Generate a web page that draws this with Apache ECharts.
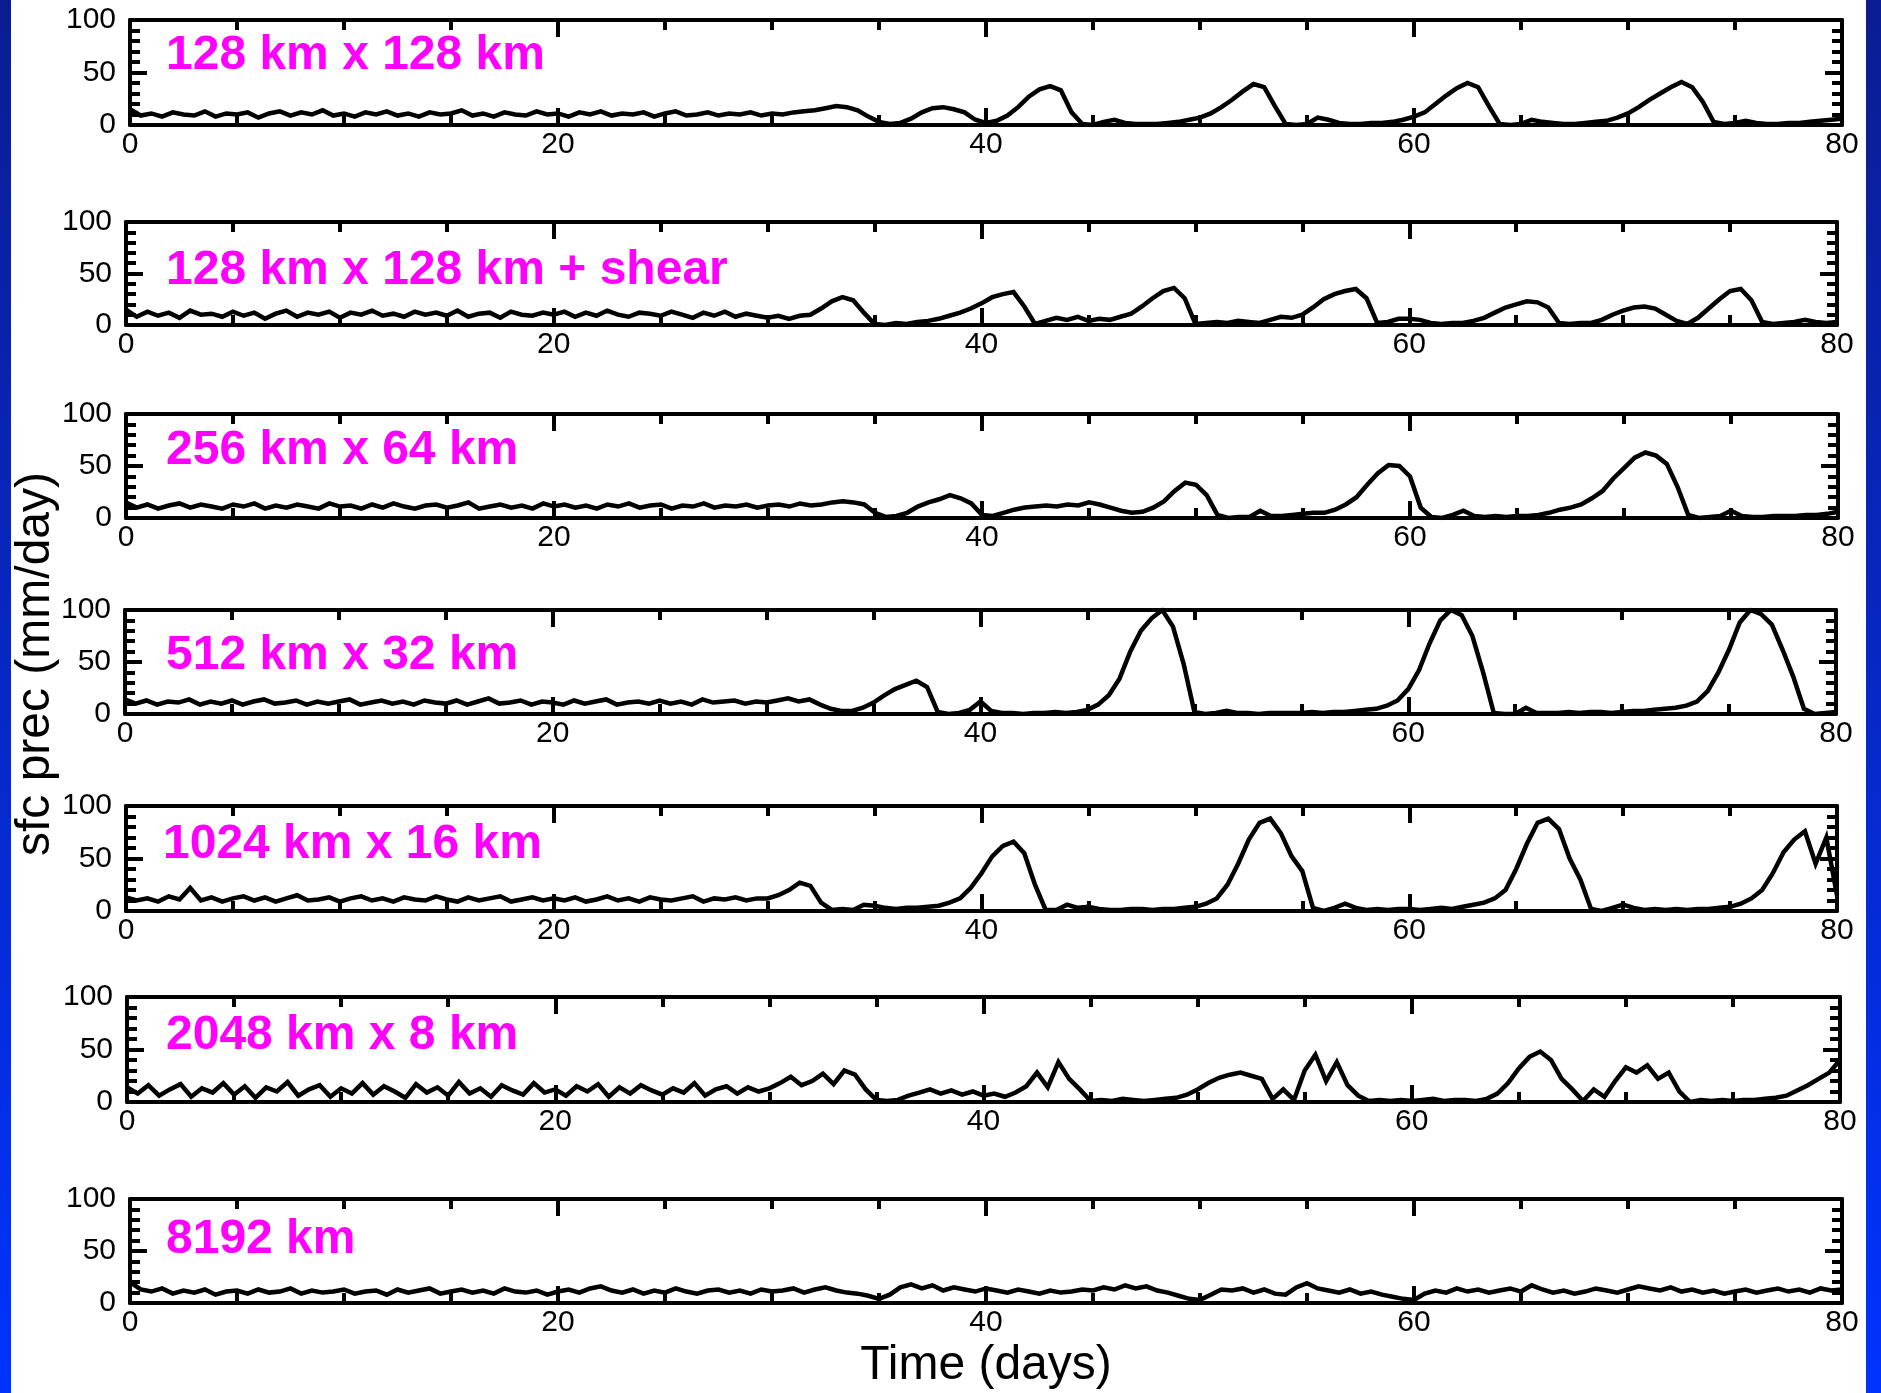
<!DOCTYPE html>
<html>
<head>
<meta charset="utf-8">
<script src="https://cdn.jsdelivr.net/npm/echarts@6/dist/echarts.min.js"></script>
<style>
  html, body { margin: 0; padding: 0; background: #fff; }
  #chart { width: 1881px; height: 1393px; }
</style>
</head>
<body>
<div id="chart"></div>
<script>
// sampling interval of all series, days
const STEP = 0.5;

const panelNames = [
  '128 km x 128 km',
  '128 km x 128 km + shear',
  '256 km x 64 km',
  '512 km x 32 km',
  '1024 km x 16 km',
  '2048 km x 8 km',
  '8192 km'
];

// surface precipitation (mm/day), one row = 5 days
const prec128 = [
  15, 9, 11, 8, 12, 10, 9, 13, 8, 11,
  10, 12, 7, 11, 13, 9, 12, 10, 14, 9,
  11, 8, 12, 10, 13, 9, 11, 8, 12, 10,
  11, 14, 9, 11, 8, 12, 10, 9, 13, 10,
  11, 8, 12, 10, 13, 9, 11, 10, 12, 8,
  11, 13, 9, 10, 12, 9, 11, 10, 12, 9,
  11, 10, 12, 13, 14, 16, 18, 17, 14, 8,
  3, 1, 2, 6, 12, 16, 17, 15, 12, 5,
  2, 4, 9, 17, 27, 34, 37, 33, 12, 1,
  0, 3, 5, 2, 1, 1, 1, 2, 3, 5,
  7, 11, 17, 24, 32, 39, 36, 18, 1, 0,
  1, 7, 5, 2, 1, 1, 2, 2, 3, 5,
  8, 12, 20, 28, 35, 40, 36, 18, 1, 0,
  1, 5, 3, 2, 1, 1, 2, 3, 4, 7,
  11, 17, 24, 30, 36, 41, 36, 22, 3, 1,
  2, 4, 2, 1, 1, 2, 2, 3, 4, 5,
  6
];
const precShear = [
  15, 8, 13, 9, 12, 7, 14, 10, 11, 8,
  13, 9, 12, 6, 11, 14, 8, 12, 10, 13,
  7, 12, 10, 14, 9, 11, 8, 13, 10, 12,
  9, 14, 8, 11, 12, 7, 13, 10, 9, 12,
  10, 13, 8, 12, 9, 14, 10, 8, 12, 11,
  9, 13, 10, 7, 12, 9, 13, 8, 11, 9,
  7, 9, 6, 9, 10, 16, 23, 27, 24, 12,
  1, 0, 2, 1, 3, 4, 6, 9, 12, 16,
  21, 27, 30, 32, 18, 1, 4, 7, 5, 8,
  4, 6, 5, 8, 11, 18, 26, 33, 36, 26,
  1, 2, 3, 2, 4, 3, 2, 5, 8, 7,
  10, 17, 25, 30, 33, 35, 26, 2, 3, 6,
  6, 5, 2, 1, 2, 2, 4, 7, 12, 17,
  20, 23, 22, 17, 2, 1, 2, 2, 5, 10,
  14, 17, 18, 16, 10, 4, 1, 7, 16, 25,
  33, 35, 24, 3, 1, 2, 3, 5, 3, 2,
  3
];
const prec256 = [
  15, 10, 13, 9, 12, 14, 10, 13, 11, 9,
  13, 11, 14, 9, 12, 10, 13, 11, 9, 14,
  11, 12, 9, 13, 10, 14, 11, 9, 12, 13,
  10, 12, 15, 9, 11, 13, 10, 12, 9, 14,
  11, 13, 10, 12, 9, 13, 11, 14, 10, 12,
  13, 9, 12, 11, 14, 10, 12, 11, 13, 10,
  12, 13, 11, 14, 12, 13, 15, 16, 15, 13,
  5, 1, 2, 5, 11, 15, 18, 22, 19, 14,
  3, 2, 5, 8, 10, 11, 12, 11, 13, 12,
  15, 13, 10, 7, 5, 6, 10, 16, 26, 34,
  32, 22, 3, 0, 1, 1, 7, 2, 2, 3,
  4, 5, 5, 8, 13, 20, 32, 43, 51, 50,
  40, 10, 1, 0, 3, 7, 2, 1, 2, 1,
  2, 2, 3, 5, 8, 10, 13, 19, 26, 38,
  48, 58, 63, 60, 52, 30, 3, 0, 1, 2,
  7, 2, 1, 1, 2, 2, 2, 3, 3, 4,
  6
];
const prec512 = [
  14, 10, 13, 9, 12, 11, 14, 9, 12, 10,
  13, 9, 12, 14, 10, 11, 13, 9, 12, 10,
  12, 14, 9, 11, 13, 10, 12, 9, 13, 11,
  10, 13, 9, 12, 15, 10, 11, 13, 9, 12,
  11, 9, 13, 10, 12, 14, 9, 11, 12, 10,
  13, 10, 12, 9, 14, 11, 12, 13, 10, 12,
  11, 13, 15, 12, 14, 9, 5, 3, 3, 6,
  11, 18, 24, 28, 32, 26, 2, 0, 1, 4,
  12, 3, 1, 1, 0, 1, 1, 2, 1, 2,
  4, 9, 18, 34, 60, 80, 92, 100, 84, 48,
  2, 0, 1, 3, 1, 1, 0, 1, 1, 1,
  1, 2, 1, 2, 2, 3, 4, 5, 8, 13,
  24, 42, 68, 90, 100, 95, 75, 40, 1, 0,
  0, 6, 1, 1, 1, 2, 1, 2, 2, 1,
  2, 3, 3, 4, 5, 6, 8, 12, 22, 40,
  62, 88, 100, 96, 86, 62, 36, 5, 0, 1,
  2
];
const prec1024 = [
  13, 10, 12, 9, 14, 11, 22, 10, 13, 9,
  12, 14, 10, 13, 9, 12, 15, 10, 11, 13,
  9, 12, 14, 10, 12, 9, 13, 11, 10, 14,
  11, 9, 13, 10, 12, 14, 9, 11, 13, 10,
  12, 10, 13, 9, 11, 14, 10, 12, 9, 13,
  11, 10, 12, 14, 9, 12, 11, 13, 10, 12,
  12, 15, 20, 27, 24, 8, 1, 2, 1, 6,
  5, 3, 2, 3, 3, 4, 5, 8, 12, 22,
  36, 52, 62, 66, 55, 25, 1, 1, 6, 3,
  4, 2, 1, 1, 2, 2, 1, 2, 2, 3,
  4, 7, 12, 25, 45, 68, 84, 88, 74, 52,
  38, 3, 0, 3, 7, 3, 1, 2, 1, 2,
  2, 1, 2, 3, 2, 4, 6, 8, 12, 20,
  40, 64, 84, 88, 78, 50, 30, 2, 0, 3,
  6, 3, 1, 2, 1, 2, 1, 2, 2, 3,
  4, 7, 12, 20, 36, 56, 68, 76, 45, 70,
  15
];
const prec2048 = [
  14, 8, 16, 6, 12, 17, 5, 13, 9, 18,
  7, 15, 4, 14, 10, 19, 6, 12, 16, 5,
  13, 8, 18, 7, 15, 10, 4, 17, 9, 14,
  6, 19, 8, 13, 5, 16, 11, 7, 18, 9,
  12, 6, 15, 10, 17, 5, 14, 8, 16, 11,
  7, 13, 9, 18, 6, 12, 15, 8, 14, 10,
  13, 18, 24, 16, 20, 27, 17, 30, 26, 12,
  2, 1, 2, 6, 9, 12, 8, 11, 7, 10,
  6, 8, 5, 9, 15, 28, 14, 38, 22, 12,
  1, 2, 1, 3, 2, 1, 2, 3, 4, 7,
  12, 18, 23, 26, 28, 25, 22, 3, 12, 2,
  30, 45, 20, 38, 16, 6, 1, 2, 1, 2,
  1, 2, 3, 1, 2, 2, 1, 3, 8, 18,
  32, 43, 48, 40, 22, 12, 1, 12, 5, 20,
  33, 28, 35, 22, 28, 10, 0, 2, 1, 2,
  1, 2, 2, 3, 4, 6, 11, 16, 22, 28,
  40
];
const prec8192 = [
  20, 13, 11, 14, 9, 12, 10, 13, 8, 11,
  12, 9, 13, 10, 11, 14, 9, 12, 10, 11,
  13, 9, 11, 12, 8, 13, 10, 12, 14, 9,
  11, 13, 10, 12, 9, 14, 11, 10, 12, 8,
  11, 13, 10, 14, 16, 12, 10, 13, 9, 12,
  10, 14, 11, 9, 12, 13, 10, 12, 9, 13,
  11, 12, 14, 10, 13, 15, 12, 10, 9, 7,
  4, 8, 15, 18, 14, 17, 12, 15, 13, 11,
  14, 12, 10, 13, 11, 9, 12, 10, 11, 13,
  12, 15, 13, 17, 14, 16, 12, 10, 7, 4,
  3, 8, 13, 12, 14, 10, 13, 9, 8, 15,
  19, 14, 12, 10, 13, 9, 11, 8, 6, 4,
  3, 9, 12, 10, 14, 11, 13, 10, 12, 14,
  11, 17, 13, 10, 12, 9, 11, 14, 12, 10,
  13, 16, 14, 12, 15, 11, 13, 10, 12, 9,
  11, 13, 10, 12, 14, 11, 13, 10, 14, 12,
  13
];

const allPrec = [prec128, precShear, prec256, prec512, prec1024, prec2048, prec8192];

// panel boxes in page pixels, plus where each panel's label sits
const boxes = [
  { left: 130, top: 20,   width: 1712, height: 105, labelX: 166, labelY: 56 },
  { left: 126, top: 222,  width: 1711, height: 103, labelX: 166, labelY: 271 },
  { left: 126, top: 414,  width: 1712, height: 104, labelX: 166, labelY: 451 },
  { left: 125, top: 610,  width: 1711, height: 104, labelX: 166, labelY: 656 },
  { left: 126, top: 806,  width: 1711, height: 105, labelX: 163, labelY: 845 },
  { left: 127, top: 997,  width: 1713, height: 105, labelX: 166, labelY: 1036 },
  { left: 130, top: 1199, width: 1712, height: 104, labelX: 166, labelY: 1240 }
];

const FONT = "'Liberation Sans', Arial, Helvetica, sans-serif";
const LINE = { color: '#000', width: 4 };

function xAxisFor(i, pos) {
  return {
    type: 'value', gridIndex: i, position: pos,
    min: 0, max: 80, interval: 20,
    axisLine: { show: true, onZero: false, lineStyle: LINE },
    axisTick: { show: true, inside: true, length: 17, lineStyle: LINE },
    minorTick: { show: true, splitNumber: 4, length: 10, lineStyle: LINE },
    axisLabel: {
      show: pos === 'bottom', color: '#000', fontSize: 30, fontFamily: FONT, margin: 5
    },
    splitLine: { show: false },
    minorSplitLine: { show: false }
  };
}

function yAxisFor(i, pos) {
  return {
    type: 'value', gridIndex: i, position: pos,
    min: 0, max: 100, interval: 50,
    axisLine: { show: true, onZero: false, lineStyle: LINE },
    axisTick: { show: true, inside: true, length: 17, lineStyle: LINE },
    minorTick: { show: true, splitNumber: 5, length: 10, lineStyle: LINE },
    axisLabel: {
      show: pos === 'left', color: '#000', fontSize: 30, fontFamily: FONT, margin: 14
    },
    splitLine: { show: false },
    minorSplitLine: { show: false }
  };
}

const edgeFill = () => new echarts.graphic.LinearGradient(0, 0, 0, 1, [
  { offset: 0, color: '#0a1d92' },
  { offset: 0.5, color: '#0628c6' },
  { offset: 1, color: '#0033ff' }
]);

const grid = [], xAxis = [], yAxis = [], series = [];
const graphic = [
  { type: 'rect', left: 0, top: 0, z: -1, shape: { width: 11, height: 1393 }, style: { fill: edgeFill() } },
  { type: 'rect', left: 1866, top: 0, z: -1, shape: { width: 15, height: 1393 }, style: { fill: edgeFill() } },
  {
    type: 'text', x: 36, y: 664, rotation: Math.PI / 2,
    style: {
      text: 'sfc prec (mm/day)', font: '48px ' + FONT, fill: '#000',
      align: 'center', verticalAlign: 'middle'
    }
  },
  {
    type: 'text', x: 986, y: 1366,
    style: {
      text: 'Time (days)', font: '48px ' + FONT, fill: '#000',
      align: 'center', verticalAlign: 'middle'
    }
  }
];

boxes.forEach((b, i) => {
  grid.push({ left: b.left, top: b.top, width: b.width, height: b.height, containLabel: false });
  xAxis.push(xAxisFor(i, 'bottom'), xAxisFor(i, 'top'));
  yAxis.push(yAxisFor(i, 'left'), yAxisFor(i, 'right'));
  series.push({
    type: 'line',
    xAxisIndex: 2 * i,
    yAxisIndex: 2 * i,
    data: allPrec[i].map((v, k) => [k * STEP, v]),
    showSymbol: false,
    lineStyle: { color: '#000', width: 4.5, join: 'miter' },
    clip: true,
    z: 1
  });
  graphic.push({
    type: 'text', x: b.labelX, y: b.labelY, z: 10,
    style: {
      text: panelNames[i], font: 'bold 48px ' + FONT, fill: '#ff00ff',
      align: 'left', verticalAlign: 'middle'
    }
  });
});

const option = {
  backgroundColor: '#fff',
  animation: false,
  grid: grid,
  xAxis: xAxis,
  yAxis: yAxis,
  series: series,
  graphic: graphic
};

const myChart = echarts.init(document.getElementById('chart'));
myChart.setOption(option);
</script>
</body>
</html>
